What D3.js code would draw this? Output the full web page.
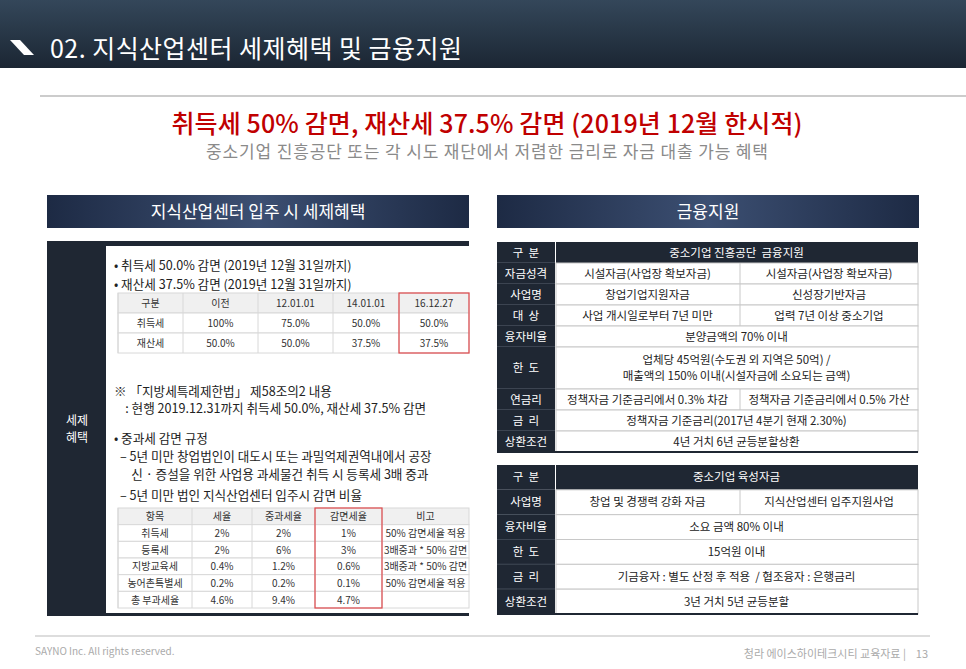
<!DOCTYPE html>
<html><head><meta charset="utf-8">
<script src="https://cdn.jsdelivr.net/npm/d3@7"></script>
<style>
body{margin:0;background:#fff;font-family:"Noto Sans CJK KR","Noto Sans",sans-serif}
text{font-family:"Noto Sans CJK KR","Noto Sans",sans-serif;white-space:pre}
</style></head><body>
<svg id="c" width="966" height="669"></svg>
<script>
// ---- data ----
const pageTitle = "02. 지식산업센터 세제혜택 및 금융지원";
const headline = "취득세 50% 감면, 재산세 37.5% 감면 (2019년 12월 한시적)";
const subline = "중소기업 진흥공단 또는 각 시도 재단에서 저렴한 금리로 자금 대출 가능 혜택";

const taxHeader = ["구분", "이전", "12.01.01", "14.01.01", "16.12.27"];
const taxRows = [
  ["취득세", "100%", "75.0%", "50.0%", "50.0%"],
  ["재산세", "50.0%", "50.0%", "37.5%", "37.5%"]
];
const surHeader = ["항목", "세율", "중과세율", "감면세율", "비고"];
const surRows = [
  ["취득세", "2%", "2%", "1%", "50% 감면세율 적용"],
  ["등록세", "2%", "6%", "3%", "3배중과 * 50% 감면"],
  ["지방교육세", "0.4%", "1.2%", "0.6%", "3배중과 * 50% 감면"],
  ["농어촌특별세", "0.2%", "0.2%", "0.1%", "50% 감면세율 적용"],
  ["총 부과세율", "4.6%", "9.4%", "4.7%", ""]
];
// [label, left text, right text or null (merged), height units]
const fund1 = [
  ["구  분", "중소기업 진흥공단  금융지원", null, 1],
  ["자금성격", "시설자금(사업장 확보자금)", "시설자금(사업장 확보자금)", 1],
  ["사업명", "창업기업지원자금", "신성장기반자금", 1],
  ["대  상", "사업 개시일로부터 7년 미만", "업력 7년 이상 중소기업", 1],
  ["융자비율", "분양금액의 70% 이내", null, 1],
  ["한  도", "업체당 45억원(수도권 외 지역은 50억) /\n매출액의 150% 이내(시설자금에 소요되는 금액)", null, 2],
  ["연금리", "정책자금 기준금리에서 0.3% 차감", "정책자금 기준금리에서 0.5% 가산", 1],
  ["금  리", "정책자금 기준금리(2017년 4분기 현재 2.30%)", null, 1],
  ["상환조건", "4년 거치 6년 균등분할상환", null, 1]
];
const fund2 = [
  ["구  분", "중소기업 육성자금", null, 1],
  ["사업명", "창업 및 경쟁력 강화 자금", "지식산업센터 입주지원사업", 1],
  ["융자비율", "소요 금액 80% 이내", null, 1],
  ["한  도", "15억원 이내", null, 1],
  ["금  리", "기금융자 : 별도 산정 후 적용  / 협조융자 : 은행금리", null, 1],
  ["상환조건", "3년 거치 5년 균등분할", null, 1]
];

const svg = d3.select("#c");
const dark = "#1f2733";
const defs = svg.append("defs");
const g1 = defs.append("linearGradient").attr("id", "hdr").attr("x1", 0).attr("y1", 0).attr("x2", 0).attr("y2", 1);
g1.append("stop").attr("offset", 0).attr("stop-color", "#34475a");
g1.append("stop").attr("offset", 1).attr("stop-color", "#1b2633");
const g2 = defs.append("linearGradient").attr("id", "sec").attr("x1", 0).attr("y1", 0).attr("x2", 1).attr("y2", 0);
g2.append("stop").attr("offset", 0).attr("stop-color", "#1d2a44");
g2.append("stop").attr("offset", 0.5).attr("stop-color", "#3c4f72");
g2.append("stop").attr("offset", 1).attr("stop-color", "#1d2a44");

// header
svg.append("rect").attr("width", 966).attr("height", 68).attr("fill", "url(#hdr)");
svg.append("path").attr("d", "M10,40 L20,40 L34,55 L24,55 Z").attr("fill", "#fff");
svg.append("text").attr("x", 50).attr("y", 58).attr("fill", "#fff").attr("font-size", 25).attr("textLength", 412).text(pageTitle);
svg.append("line").attr("x1", 40).attr("x2", 966).attr("y1", 96).attr("y2", 96).attr("stroke", "#ccc").attr("stroke-width", 2);

svg.append("text").attr("x", 487).attr("y", 133).attr("text-anchor", "middle").attr("fill", "#c00000")
  .attr("font-size", 25).attr("font-weight", 500).attr("textLength", 631).text(headline);
svg.append("text").attr("x", 487).attr("y", 158).attr("text-anchor", "middle").attr("fill", "#8a8a8a")
  .attr("font-size", 17).attr("textLength", 562).text(subline);

// section headers
[[47, "지식산업센터 입주 시 세제혜택"], [497, "금융지원"]].forEach(([x, t]) => {
  svg.append("rect").attr("x", x).attr("y", 195).attr("width", 422).attr("height", 33).attr("fill", "url(#sec)");
  svg.append("text").attr("x", x + 211).attr("y", 218).attr("text-anchor", "middle").attr("fill", "#fff").attr("font-size", 17).text(t);
});

// left panel
svg.append("rect").attr("x", 47).attr("y", 241).attr("width", 422).attr("height", 375).attr("fill", dark);
svg.append("rect").attr("x", 106).attr("y", 246).attr("width", 363).attr("height", 367).attr("fill", "#fff");
svg.append("text").attr("x", 77).attr("y", 425).attr("text-anchor", "middle").attr("fill", "#fff").attr("font-size", 12)
  .selectAll("tspan").data(["세제", "혜택"]).join("tspan").attr("x", 77).attr("dy", (d, i) => i ? 17 : 0).text(d => d);

const txt = (x, y, s, size = 12.6) => svg.append("text").attr("x", x).attr("y", y).attr("font-size", size).attr("fill", "#222").text(s);
txt(114, 270, "• 취득세 50.0% 감면 (2019년 12월 31일까지)");
txt(114, 289, "• 재산세 37.5% 감면 (2019년 12월 31일까지)");
txt(114, 396, "※ 「지방세특례제한법」 제58조의2 내용");
txt(114, 413, "    : 현행 2019.12.31까지 취득세 50.0%, 재산세 37.5% 감면");
txt(114, 443, "• 중과세 감면 규정");
txt(120, 461, "– 5년 미만 창업법인이 대도시 또는 과밀억제권역내에서 공장");
txt(120, 479, "    신 · 증설을 위한 사업용 과세물건 취득 시 등록세 3배 중과");
txt(120, 500, "– 5년 미만 법인 지식산업센터 입주시 감면 비율");

function grid(header, rows, colEdges, y0, y1, redCol, fs) {
  const all = [header, ...rows];
  const y = d3.scaleBand().domain(d3.range(all.length)).range([y0, y1]);
  const g = svg.append("g");
  all.forEach((r, i) => {
    g.append("rect").attr("x", colEdges[0]).attr("y", y(i)).attr("width", colEdges[colEdges.length - 1] - colEdges[0])
      .attr("height", y.bandwidth()).attr("fill", i === 0 ? "#f0f0f0" : "#fff").attr("stroke", "#d8d8d8");
    r.forEach((c, j) => {
      g.append("line").attr("x1", colEdges[j]).attr("x2", colEdges[j]).attr("y1", y(i)).attr("y2", y(i) + y.bandwidth()).attr("stroke", "#d8d8d8");
      g.append("text").attr("x", (colEdges[j] + colEdges[j + 1]) / 2).attr("y", y(i) + y.bandwidth() / 2 + 4)
        .attr("text-anchor", "middle").attr("font-size", fs).attr("fill", "#333").text(c);
    });
  });
  g.append("rect").attr("x", colEdges[redCol]).attr("y", y0).attr("width", colEdges[redCol + 1] - colEdges[redCol])
    .attr("height", y1 - y0).attr("fill", "none").attr("stroke", "#e0494b").attr("stroke-width", 1.2);
}
grid(taxHeader, taxRows, [118, 183, 258, 333, 399, 469], 293, 353, 4, 10);
grid(surHeader, surRows, [118, 192, 252, 315, 382, 469], 508, 608, 3, 10);

// right tables
function fund(rows, y0, y1) {
  const cum = [0];
  rows.forEach(r => cum.push(cum[cum.length - 1] + r[3]));
  const y = d3.scaleLinear().domain([0, cum[cum.length - 1]]).range([y0, y1]);
  const x0 = 497, xl = 555, xm = 740, x1 = 918;
  const g = svg.append("g");
  rows.forEach((r, i) => {
    const top = y(cum[i]), bot = y(cum[i + 1]), mid = (top + bot) / 2;
    g.append("rect").attr("x", x0).attr("y", top).attr("width", xl - x0).attr("height", bot - top).attr("fill", dark);
    g.append("rect").attr("x", xl + 1).attr("y", top).attr("width", x1 - xl - 1).attr("height", bot - top)
      .attr("fill", i === 0 ? dark : "#fff").attr("stroke", i === 0 ? "none" : "#c8c8c8");
    g.append("line").attr("x1", x0).attr("x2", xl).attr("y1", bot).attr("y2", bot).attr("stroke", "#5a6270");
    g.append("text").attr("x", (x0 + xl) / 2).attr("y", mid + 4).attr("text-anchor", "middle").attr("fill", "#fff").attr("font-size", 11.5).text(r[0]);
    const col = i === 0 ? "#fff" : "#222";
    if (r[2] === null) {
      const lines = r[1].split("\n");
      g.append("text").attr("x", (xl + x1) / 2).attr("y", mid + 4 - (lines.length - 1) * 8).attr("text-anchor", "middle")
        .attr("fill", col).attr("font-size", 11.5)
        .selectAll("tspan").data(lines).join("tspan").attr("x", (xl + x1) / 2).attr("dy", (d, k) => k ? 16 : 0).text(d => d);
    } else {
      g.append("line").attr("x1", xm).attr("x2", xm).attr("y1", top).attr("y2", bot).attr("stroke", "#c8c8c8");
      g.append("text").attr("x", (xl + xm) / 2).attr("y", mid + 4).attr("text-anchor", "middle").attr("fill", col).attr("font-size", 11.5).text(r[1]);
      g.append("text").attr("x", (xm + x1) / 2).attr("y", mid + 4).attr("text-anchor", "middle").attr("fill", col).attr("font-size", 11.5).text(r[2]);
    }
  });
  g.append("line").attr("x1", x0).attr("x2", x1).attr("y1", y1).attr("y2", y1).attr("stroke", dark).attr("stroke-width", 2);
}
fund(fund1, 242, 452);
fund(fund2, 465, 614);

// footer
svg.append("line").attr("x1", 35).attr("x2", 930).attr("y1", 636).attr("y2", 636).attr("stroke", "#bbb");
svg.append("text").attr("x", 35).attr("y", 655).attr("font-size", 10).attr("fill", "#aaa").text("SAYNO Inc. All rights reserved.");
svg.append("text").attr("x", 928).attr("y", 658).attr("text-anchor", "end").attr("font-size", 11).attr("fill", "#aaa")
  .text("청라 에이스하이테크시티 교육자료 |    13");
</script>
</body></html>
